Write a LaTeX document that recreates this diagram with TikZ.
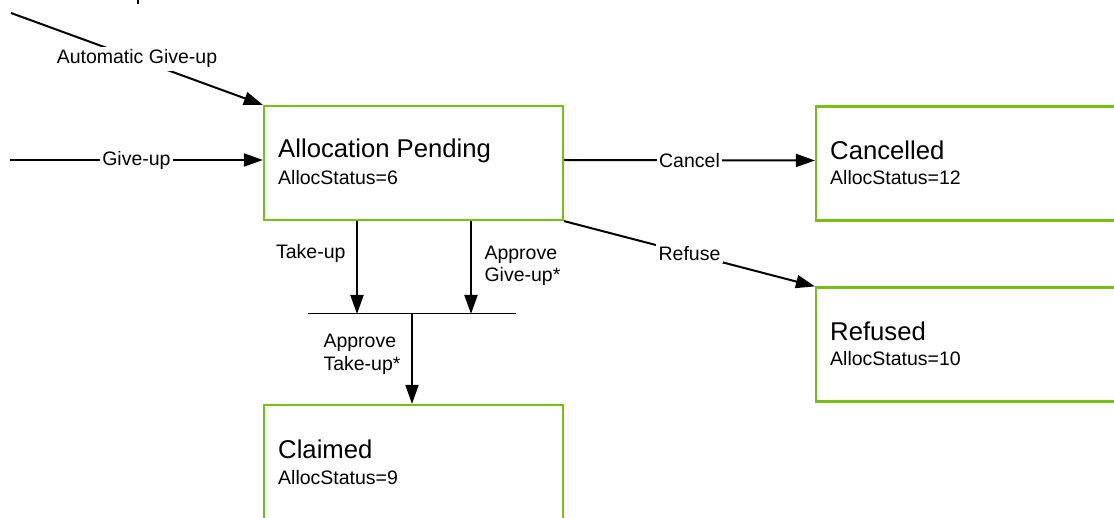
\documentclass[tikz,border=0pt]{standalone}
\usepackage{fontspec}
\setmainfont{Liberation Sans}
\usetikzlibrary{arrows.meta,positioning}
\definecolor{stategreen}{RGB}{122,190,20}

\tikzset{
  statebox/.style={draw=stategreen, line width=2.2pt, minimum width=299pt, minimum height=114pt, inner sep=0pt},
  titletext/.style={anchor=base west, inner sep=0pt, font=\fontsize{25.7}{30}\selectfont},
  statustext/.style={anchor=base west, inner sep=0pt, font=\fontsize{19.5}{23}\selectfont},
  conn/.style={line width=2pt, -{Triangle[length=19pt,width=13pt]}},
  lbl/.style={font=\fontsize{19.5}{22.5}\selectfont, inner sep=2.5pt, align=left},
  inlbl/.style={lbl, fill=white},
}

\begin{document}
\begin{tikzpicture}[x=1pt,y=-1pt]
\useasboundingbox (0,0) rectangle (1114,518);
%\draw[step=50,gray,very thin] (0,0) grid (1114,518); %background grid

\node[statebox] (pend)  at (413.5,163)   {};
\node[statebox] (canc)  at (965.5,163.5) {};
\node[statebox] (refu)  at (965.5,344.5) {};
\node[statebox] (claim) at (413.5,462)   {};

\node[titletext]  (pendT)  at (278,158) {Allocation Pending};
\node[statustext] (pendS)  at (278,185) {AllocStatus=6};
\node[titletext]  (cancT)  at (830,160) {Cancelled};
\node[statustext] (cancS)  at (830,185) {AllocStatus=12};
\node[titletext]  (refuT)  at (830,341) {Refused};
\node[statustext] (refuS)  at (830,366) {AllocStatus=10};
\node[titletext]  (claimT) at (278,458) {Claimed};
\node[statustext] (claimS) at (278,484) {AllocStatus=9};

\coordinate (autostart) at (11,13);
\coordinate (givestart) at (10,160);
\coordinate (barL) at (308,314);
\coordinate (barR) at (516,314);
\coordinate (takeup) at (357,314);
\coordinate (apprgive) at (471,314);
\coordinate (apprtake) at (412,314);

% incoming
\draw[conn] (autostart) -- node[inlbl] {Automatic Give-up} (pend.north west);
\draw[conn] (givestart) -- node[inlbl] {Give-up} (givestart -| pend.west);

% outgoing
\draw[conn] ([yshift=3pt]pend.east) -- node[inlbl] {Cancel} ([yshift=3pt]canc.west);
\draw[conn] (pend.south east) -- node[inlbl] {Refuse} (refu.north west);

% join bar
\draw[line width=1pt] (barL) -- (barR);
\draw[conn] (pend.south -| takeup) -- node[lbl, pos=.35, left=8pt] {Take-up} (takeup);
\draw[conn] (pend.south -| apprgive) -- node[lbl, pos=.48, right=10pt] {Approve\\Give-up*} (apprgive);
\draw[conn] (apprtake) -- node[lbl, pos=.45, left=8pt] {Approve\\Take-up*} (claim.north -| apprtake);

\draw[line width=1.5pt] (138,-6) -- (138,4);

\end{tikzpicture}
\end{document}
